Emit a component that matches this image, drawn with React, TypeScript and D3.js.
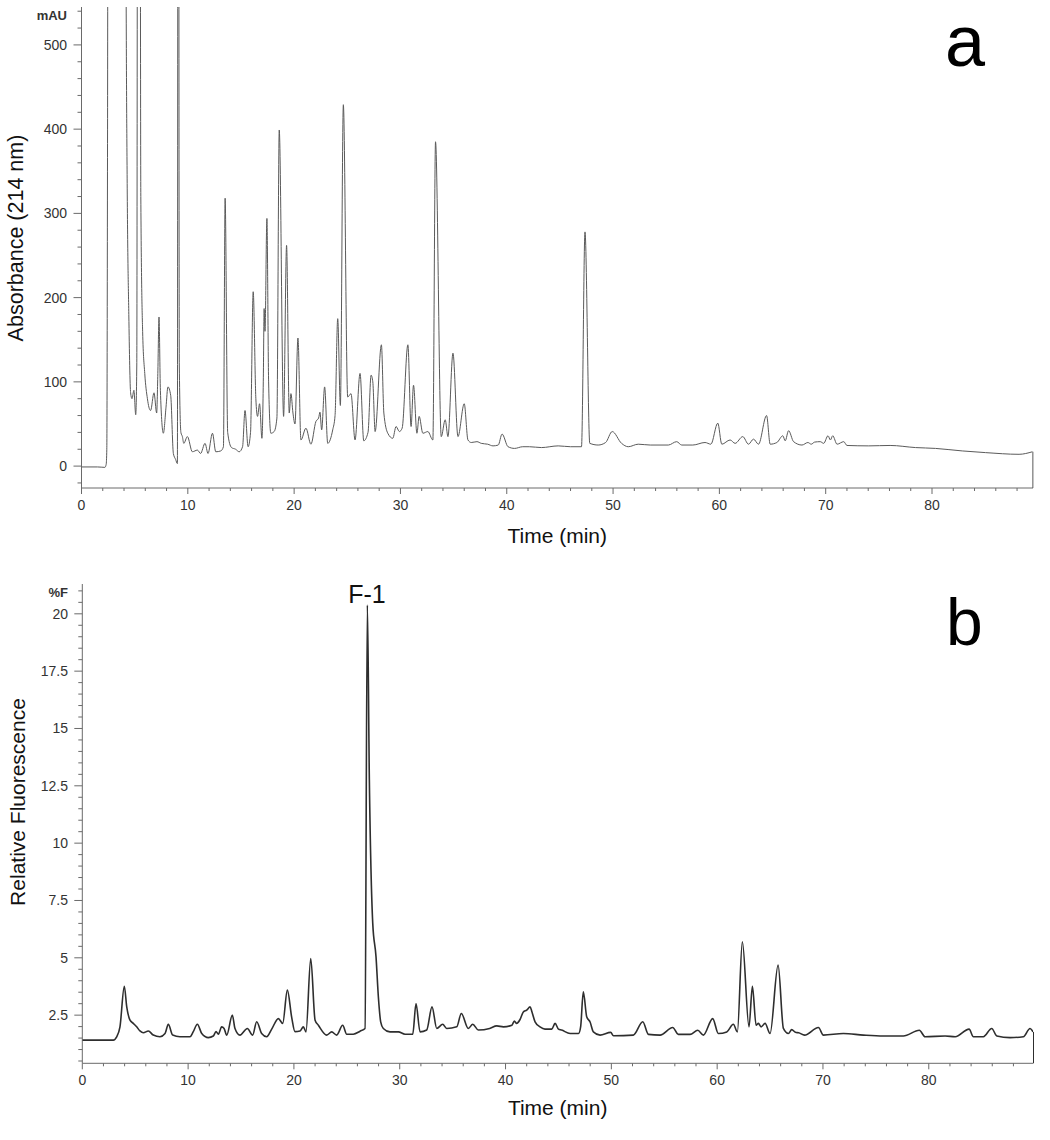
import React from "react";
import * as d3 from "d3";

// ---------- Panel a: UV absorbance (214 nm), mAU ----------
const aTime = [
  0, 1.5, 2.2, 2.32, 2.38, 2.45, 2.55, 4.05, 4.2, 4.3, 4.45, 4.62, 4.75, 4.93, 5.1, 5.2, 5.32, 5.45, 5.58, 5.75,
  5.95, 6.2, 6.34, 6.5, 6.82, 7.07, 7.18, 7.29, 7.42, 7.7, 7.95, 8.13, 8.39, 8.64, 8.85, 9.02, 9.1, 9.2, 9.35, 9.49,
  9.62, 9.96, 10.43, 10.9, 11.2, 11.62, 11.9, 12.32, 12.63, 13.1, 13.35, 13.51, 13.75, 14.11, 14.5, 14.83, 15.15, 15.38, 15.67, 15.9,
  16.15, 16.4, 16.56, 16.75, 16.97, 17.1, 17.18, 17.26, 17.44, 17.6, 17.81, 18.12, 18.38, 18.6, 19.01, 19.29, 19.54, 19.7, 19.89, 20.08,
  20.36, 20.64, 21.11, 21.58, 22.05, 22.3, 22.43, 22.59, 22.87, 23.16, 23.63, 23.85, 24.1, 24.35, 24.63, 25.04, 25.35, 25.73, 26.2, 26.55,
  26.95, 27.24, 27.4, 27.62, 28.21, 28.44, 28.81, 29.28, 29.59, 29.9, 30.16, 30.7, 31.0, 31.23, 31.55, 31.76, 32.11, 32.58, 33.05, 33.3,
  33.84, 34.21, 34.47, 34.94, 35.41, 36.0, 36.35, 36.66, 37.2, 37.6, 38.2, 38.71, 39.2, 39.56, 40.12, 40.74, 41.5, 42.13, 43.26, 44.84,
  46.0, 47.03, 47.36, 47.81, 48.6, 49.3, 49.92, 50.8, 51.43, 52.37, 53.5, 55.2, 55.98, 56.46, 57.5, 58.65, 59.2, 59.85, 60.23, 61.01,
  61.48, 62.2, 62.74, 63.21, 63.68, 64.44, 64.78, 65.41, 65.97, 66.19, 66.51, 66.98, 67.77, 68.33, 68.64, 68.96, 69.49, 69.81, 70.22, 70.44,
  70.66, 71.07, 71.7, 72.0, 74.05, 76.06, 78.45, 80.33, 82.85, 85.04, 88.19, 89.44,
];
const aAbs = [
  -1, -1, -1.5, 2, 20, 400, 1500, 1500, 560, 330, 180, 87, 80, 90, 61, 120, 1500, 1500, 320, 160,
  110, 80, 70, 66, 87, 63, 110, 177, 90, 39, 70, 94, 84, 15, 8, 3, 1500, 120, 40, 35,
  27, 35, 17, 19, 15, 27, 15, 39, 17, 18, 23, 318, 40, 22, 20, 17, 23, 66, 23, 40,
  207, 80, 59, 74, 33, 100, 187, 160, 294, 100, 39, 41, 57, 399, 59, 262, 63, 86, 63, 50,
  152, 31, 45, 26, 53, 57, 64, 43, 94, 27, 43, 60, 175, 72, 429, 82, 86, 31, 110, 30,
  40, 108, 100, 41, 144, 63, 39, 33, 47, 41, 45, 144, 47, 96, 39, 59, 39, 41, 31, 385,
  35, 55, 35, 134, 35, 74, 31, 28, 29, 27, 26, 24, 25, 38, 23, 21, 23, 23, 22, 24,
  23, 23, 278, 27, 25, 28, 41, 27, 23, 26, 25, 25, 29, 25, 25, 28, 26, 51, 26, 31,
  27, 35, 26, 32, 26, 60, 26, 28, 36, 30, 42, 29, 25, 28, 26, 28.5, 29, 27, 36, 31,
  36, 26, 29, 24.5, 24, 24.5, 22, 21, 18, 16, 14, 17,
];
const aYTicks = [0, 100, 200, 300, 400, 500];
const aXTicks = [0, 10, 20, 30, 40, 50, 60, 70, 80];

// ---------- Panel b: fluorescence, %F ----------
const bTime = [
  0, 2.93, 3.25, 3.56, 3.97, 4.2, 4.51, 4.82, 5.14, 5.45, 5.77, 6.24, 6.71, 7.34, 7.82, 8.13, 8.54, 9.23, 10.18, 10.49,
  10.87, 11.29, 11.91, 12.38, 12.64, 12.86, 13.17, 13.4, 13.65, 14.18, 14.43, 14.9, 15.6, 16.1, 16.48, 16.95, 17.43, 17.9, 18.53, 18.94,
  19.38, 19.79, 20.1, 20.58, 20.89, 21.14, 21.59, 22.0, 22.31, 23.1, 23.57, 24.04, 24.61, 24.99, 25.61, 26.25, 26.72, 26.94, 27.13, 27.45,
  27.76, 27.98, 28.2, 28.45, 29.08, 29.87, 30.5, 31.23, 31.54, 31.92, 32.55, 33.05, 33.5, 34.06, 34.44, 35.39, 35.82, 36.48, 36.9, 37.43,
  38.5, 39.17, 39.8, 40.6, 40.83, 41.05, 41.37, 41.68, 42.0, 42.32, 42.5, 42.79, 43.26, 43.73, 44.37, 44.68, 45.0, 45.3, 46.1, 46.9,
  47.1, 47.35, 47.67, 47.99, 48.3, 48.93, 49.94, 50.2, 52.08, 52.97, 53.5, 54.6, 55.8, 56.33, 57.44, 58.17, 58.7, 59.58, 60.11, 60.91,
  61.53, 61.91, 62.38, 63.01, 63.33, 63.68, 63.9, 64.15, 64.53, 65.0, 65.76, 66.26, 66.73, 67.05, 67.4, 67.7, 68.26, 69.57, 70.04, 71.93,
  73.82, 75.7, 77.6, 79.11, 79.65, 81.54, 82.5, 83.81, 84.22, 85.16, 85.95, 86.43, 87.68, 88.94, 89.57, 89.85,
];
const bFluor = [
  1.41, 1.41, 1.55, 1.99, 3.76, 2.86, 2.28, 2.14, 1.99, 1.81, 1.73, 1.81, 1.63, 1.56, 1.7, 2.1, 1.63, 1.56, 1.56, 1.78,
  2.1, 1.7, 1.52, 1.59, 1.78, 1.67, 1.99, 1.92, 1.63, 2.5, 1.92, 1.63, 1.92, 1.63, 2.21, 1.7, 1.56, 1.89, 2.35, 2.14,
  3.59, 2.4, 1.78, 1.81, 1.99, 1.77, 4.97, 2.28, 2.06, 1.63, 1.77, 1.63, 2.06, 1.67, 1.67, 1.8, 1.92, 20.38, 12.75, 6.5,
  5.04, 3.3, 2.21, 1.92, 1.77, 1.77, 1.67, 1.67, 3.0, 1.77, 1.85, 2.86, 1.92, 2.1, 1.92, 1.99, 2.57, 1.92, 2.1, 1.85,
  1.92, 2.03, 1.99, 2.06, 2.24, 2.14, 2.31, 2.64, 2.72, 2.86, 2.64, 2.21, 1.99, 1.89, 1.89, 2.14, 1.89, 1.85, 1.7, 1.7,
  2.0, 3.52, 2.43, 2.2, 1.77, 1.63, 1.75, 1.6, 1.63, 2.21, 1.66, 1.63, 1.96, 1.66, 1.66, 1.84, 1.63, 2.35, 1.7, 1.77,
  2.1, 1.77, 5.7, 1.99, 3.76, 2.06, 2.14, 1.99, 2.14, 1.7, 4.68, 1.92, 1.7, 1.87, 1.75, 1.73, 1.63, 1.96, 1.63, 1.7,
  1.63, 1.59, 1.59, 1.84, 1.56, 1.59, 1.56, 1.89, 1.56, 1.56, 1.92, 1.59, 1.52, 1.56, 1.92, 1.77,
];
const bYTicks = [2.5, 5, 7.5, 10, 12.5, 15, 17.5, 20];
const bXTicks = [0, 10, 20, 30, 40, 50, 60, 70, 80];

const FONT = "'Liberation Sans', Arial, Helvetica, sans-serif";
const AXIS = "#6a6a6a";
const LABEL = "#333";

type PanelProps = {
  id: string;
  times: number[];
  values: number[];
  xDomain: [number, number];
  xRange: [number, number];
  yDomain: [number, number];
  yRange: [number, number];
  yTicks: number[];
  yMinorStep: number;
  xTicks: number[];
  unit: string;
  yTitle: string;
  yTitleX: number;
  yTitleY: number;
  yTitleSize: number;
  xTitleY: number;
  letter: string;
  letterX: number;
  letterY: number;
  letterSize: number;
  stroke: string;
  strokeWidth: number;
  yLabelRight: number;
};

function Panel(p: PanelProps) {
  const x = d3.scaleLinear().domain(p.xDomain).range(p.xRange);
  const y = d3.scaleLinear().domain(p.yDomain).range(p.yRange);
  const pts: [number, number][] = p.times.map((t, i) => [t, p.values[i]]);
  const line = d3
    .line<[number, number]>()
    .x((d) => x(d[0]))
    .y((d) => y(d[1]))
    .curve(d3.curveMonotoneX);
  const x0 = p.xRange[0];
  const x1 = p.xRange[1];
  const yB = p.yRange[0];
  const yT = p.yRange[1];
  const minorY = d3
    .range(Math.ceil(p.yDomain[0] / p.yMinorStep) * p.yMinorStep, p.yDomain[1], p.yMinorStep)
    .filter((v) => !p.yTicks.some((t) => Math.abs(t - v) < 1e-6));
  const minorX = d3.range(0, p.xDomain[1], 2).filter((v) => v % 10 !== 0);
  const last = pts[pts.length - 1];
  return (
    <g>
      <defs>
        <clipPath id={p.id}>
          <rect x={x0} y={yT} width={x1 - x0} height={yB - yT} />
        </clipPath>
      </defs>
      <line x1={x0} x2={x0} y1={yT} y2={yB} stroke={AXIS} strokeWidth={1} />
      <line x1={x0} x2={x1} y1={yB} y2={yB} stroke={AXIS} strokeWidth={1} />
      {p.yTicks.map((t) => (
        <g key={"yt" + t}>
          <line x1={x0 - 8} x2={x0} y1={y(t)} y2={y(t)} stroke={AXIS} />
          <text x={p.yLabelRight} y={y(t)} dy="0.35em" textAnchor="end" fontSize={14} fill={LABEL} fontFamily={FONT}>
            {String(t)}
          </text>
        </g>
      ))}
      {minorY.map((t) => (
        <line key={"ym" + t} x1={x0 - 4} x2={x0} y1={y(t)} y2={y(t)} stroke={AXIS} />
      ))}
      {p.xTicks.map((t) => (
        <g key={"xt" + t}>
          <line x1={x(t)} x2={x(t)} y1={yB} y2={yB + 6} stroke={AXIS} />
          <text x={x(t)} y={yB + 22} textAnchor="middle" fontSize={14} fill={LABEL} fontFamily={FONT}>
            {t}
          </text>
        </g>
      ))}
      {minorX.map((t) => (
        <line key={"xm" + t} x1={x(t)} x2={x(t)} y1={yB} y2={yB + 3} stroke={AXIS} />
      ))}
      <text x={p.yLabelRight} y={yT + 13} textAnchor="end" fontSize={13} fontWeight="bold" fill={LABEL} fontFamily={FONT}>
        {p.unit}
      </text>
      <text
        transform={`translate(${p.yTitleX},${p.yTitleY}) rotate(-90)`}
        textAnchor="middle"
        fontSize={p.yTitleSize}
        fill="#111"
        fontFamily={FONT}
      >
        {p.yTitle}
      </text>
      <text x={(x0 + x1) / 2} y={p.xTitleY} textAnchor="middle" fontSize={21} fill="#111" fontFamily={FONT}>
        Time (min)
      </text>
      <text x={p.letterX} y={p.letterY} fontSize={p.letterSize} fill="#000" fontFamily={FONT}>
        {p.letter}
      </text>
      <g clipPath={`url(#${p.id})`}>
        <path d={line(pts) || ""} fill="none" stroke={p.stroke} strokeWidth={p.strokeWidth} strokeLinejoin="round" />
      </g>
      <line x1={x(last[0]) + 0.5} x2={x(last[0]) + 0.5} y1={y(last[1])} y2={yB} stroke={p.stroke} strokeWidth={1} />
    </g>
  );
}

export default function App() {
  const bx = d3.scaleLinear().domain([0, 89.85]).range([82.3, 1033]);
  return (
    <svg
      width={1050}
      height={1140}
      viewBox="0 0 1050 1140"
      style={{ position: "absolute", left: 0, top: 0, background: "#fff" }}
    >
      <rect x={0} y={0} width={1050} height={1140} fill="#fff" />
      <Panel
        id="clipA"
        times={aTime}
        values={aAbs}
        xDomain={[0, 89.5]}
        xRange={[81.5, 1033]}
        yDomain={[-26, 545]}
        yRange={[488, 7]}
        yTicks={aYTicks}
        yMinorStep={20}
        xTicks={aXTicks}
        unit="mAU"
        yTitle="Absorbance (214 nm)"
        yTitleX={23}
        yTitleY={238}
        yTitleSize={21.5}
        xTitleY={543}
        letter="a"
        letterX={945}
        letterY={66}
        letterSize={72}
        stroke="#5a5a5a"
        strokeWidth={1}
        yLabelRight={67}
      />
      <Panel
        id="clipB"
        times={bTime}
        values={bFluor}
        xDomain={[0, 89.85]}
        xRange={[82.3, 1033]}
        yDomain={[0.4, 21.3]}
        yRange={[1063.3, 584]}
        yTicks={bYTicks}
        yMinorStep={0.5}
        xTicks={bXTicks}
        unit="%F"
        yTitle="Relative Fluorescence"
        yTitleX={25}
        yTitleY={802}
        yTitleSize={21}
        xTitleY={1115}
        letter="b"
        letterX={946}
        letterY={645}
        letterSize={66}
        stroke="#2e2e2e"
        strokeWidth={1.6}
        yLabelRight={68}
      />
      <text x={bx(26.9)} y={603} textAnchor="middle" fontSize={25} fill="#111" fontFamily={FONT}>
        F-1
      </text>
    </svg>
  );
}
